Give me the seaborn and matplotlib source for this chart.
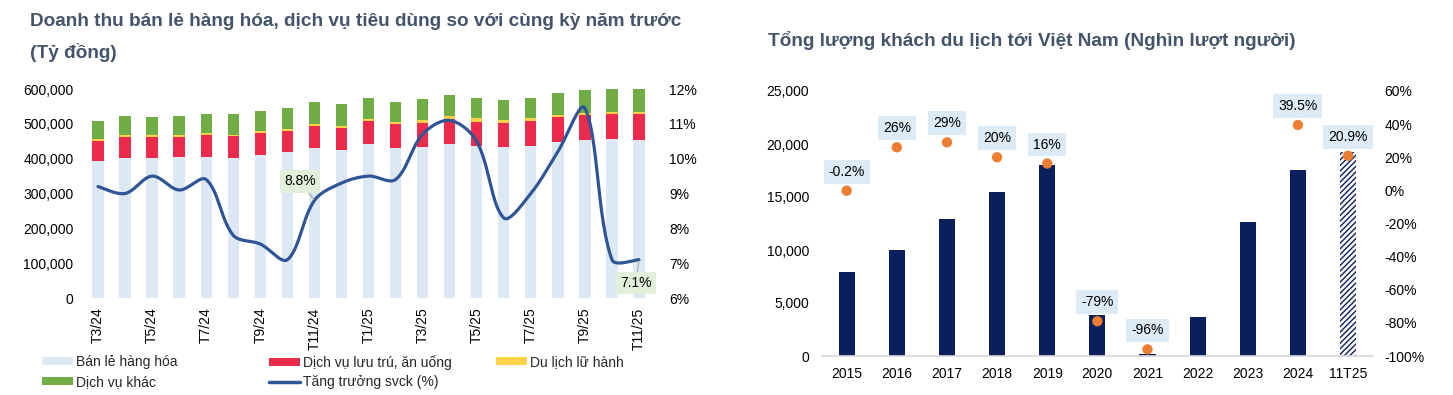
import numpy as np
import pandas as pd
import matplotlib
matplotlib.use("Agg")
import matplotlib.pyplot as plt
from matplotlib.patches import Patch
from matplotlib.lines import Line2D
from matplotlib.ticker import FuncFormatter, MultipleLocator
import seaborn as sns

# ---------------- data: left chart (Tỷ đồng) ----------------
months = ["T3/24", "T4/24", "T5/24", "T6/24", "T7/24", "T8/24", "T9/24", "T10/24",
          "T11/24", "T12/24", "T1/25", "T2/25", "T3/25", "T4/25", "T5/25", "T6/25",
          "T7/25", "T8/25", "T9/25", "T10/25", "T11/25"]
retail = [393300, 401900, 401900, 403800, 405800, 401900, 410500, 420000, 429700, 424000,
          441200, 431600, 434500, 442100, 436400, 432600, 436400, 448700, 454500, 455600, 454500]
accommodation = [58300, 61200, 61100, 59600, 61200, 62000, 62300, 60300, 64900, 65000,
                 67800, 67000, 68900, 70900, 69700, 70800, 71000, 70100, 70000, 71800, 72500]
travel = [4900, 5800, 5500, 5600, 7600, 5100, 5700, 5700, 5800, 5600,
          4900, 6700, 7600, 9500, 9800, 7600, 8000, 7400, 7500, 7400, 7000]
other = [52500, 53600, 51100, 53500, 53600, 58300, 57500, 59500, 61400, 63200,
         59400, 56500, 59400, 59400, 58300, 58300, 58000, 61400, 65100, 65200, 66000]
growth_yoy = [9.2, 9.0, 9.5, 9.1, 9.4, 7.8, 7.55, 7.1, 8.8, 9.3, 9.5,
              9.4, 10.7, 11.1, 10.5, 8.3, 9.0, 10.2, 11.45, 7.1, 7.1]
left_tick_labels = ["T3/24", "T5/24", "T7/24", "T9/24", "T11/24", "T1/25",
                    "T3/25", "T5/25", "T7/25", "T9/25", "T11/25"]
left_callouts = {"T11/24": "8.8%", "T11/25": "7.1%"}

# ---------------- data: right chart (Nghìn lượt người) ----------------
years = ["2015", "2016", "2017", "2018", "2019", "2020", "2021", "2022", "2023", "2024", "11T25"]
arrivals = [7944, 10013, 12922, 15498, 18009, 3837, 157, 3661, 12600, 17584, 19200]
arrival_growth = [-0.2, 26, 29, 20, 16.2, -79, -96, np.nan, np.nan, 39.5, 20.9]
arrival_growth_labels = ["-0.2%", "26%", "29%", "20%", "16%", "-79%", "-96%", "", "", "39.5%", "20.9%"]

# ---------------- style ----------------
sns.set_theme(style="white")
plt.rcParams["font.family"] = ["Liberation Sans", "DejaVu Sans"]
plt.rcParams["hatch.linewidth"] = 1.0

C_RETAIL = "#DDE8F5"
C_ACCOM = "#EC2B4C"
C_TRAVEL = "#FFD24A"
C_OTHER = "#70AD47"
C_LINE = "#2F5597"
C_TITLE = "#44546A"
C_NAVY = "#0B1F5E"
C_DOT = "#ED7D31"

W, H = 1453, 395
fig = plt.figure(figsize=(W / 100, H / 100), dpi=100)


def fx(px):
    return px / W


def fy(py):
    return 1 - py / H


def smooth_curve(xs, ys, sx, sy, n=30):
    """Length-weighted cubic Bezier smoothing (Excel-like), computed in pixel space."""
    P = np.column_stack([np.asarray(xs, float) * sx, np.asarray(ys, float) * sy])
    m = len(P)
    L = np.hypot(*np.diff(P, axis=0).T)
    out = []
    for i in range(m - 1):
        p0 = P[max(i - 1, 0)]
        p1 = P[i]
        p2 = P[i + 1]
        p3 = P[min(i + 2, m - 1)]
        Lp = L[i - 1] if i > 0 else L[i]
        Ln = L[i + 1] if i + 1 < m - 1 else L[i]
        Li = L[i]
        c1 = p1 + (p2 - p0) * (Li / (Lp + Li)) / 3
        c2 = p2 - (p3 - p1) * (Li / (Li + Ln)) / 3
        t = np.linspace(0, 1, n)[:, None]
        seg = (1 - t) ** 3 * p1 + 3 * (1 - t) ** 2 * t * c1 + 3 * (1 - t) * t ** 2 * c2 + t ** 3 * p2
        out.append(seg if i == 0 else seg[1:])
    res = np.vstack(out)
    return res[:, 0] / sx, res[:, 1] / sy


# ================= LEFT CHART =================
axL = fig.add_axes([fx(84.5), fy(298), fx(568), 209 / H])
dfL = pd.DataFrame({"month": months, "retail": retail, "accom": accommodation,
                    "travel": travel, "other": other})
dfL["c1"] = dfL["retail"]
dfL["c2"] = dfL["c1"] + dfL["accom"]
dfL["c3"] = dfL["c2"] + dfL["travel"]
dfL["c4"] = dfL["c3"] + dfL["other"]

bw = 0.42
for col, colr in [("c4", C_OTHER), ("c3", C_TRAVEL), ("c2", C_ACCOM), ("c1", C_RETAIL)]:
    sns.barplot(data=dfL, x="month", y=col, color=colr, width=bw, saturation=1,
                errorbar=None, ax=axL, linewidth=0)

axL.set_ylim(0, 600000)
axL.set_xlim(-0.5, len(months) - 0.5)
axL.yaxis.set_major_locator(MultipleLocator(100000))
axL.yaxis.set_major_formatter(FuncFormatter(lambda v, p: f"{int(v):,}"))
tick_pos = [months.index(m) for m in left_tick_labels]
axL.set_xticks(tick_pos)
axL.set_xticklabels(left_tick_labels, rotation=90, fontsize=10, color="black")
axL.tick_params(axis="x", length=0, pad=7)
axL.tick_params(axis="y", length=0, pad=8, labelsize=10, labelcolor="black")
axL.set_xlabel("")
axL.set_ylabel("")
for s in axL.spines.values():
    s.set_visible(False)

axL2 = axL.twinx()
axL2.set_ylim(6, 12)
sx = 568 / len(months)
sy = 209 / 6
cx, cy = smooth_curve(np.arange(len(months)), growth_yoy, sx, sy)
axL2.plot(cx, cy, color=C_LINE, lw=2.3, solid_capstyle="round")
axL2.yaxis.set_major_locator(MultipleLocator(1))
axL2.yaxis.set_major_formatter(FuncFormatter(lambda v, p: f"{v:.0f}%"))
axL2.tick_params(axis="y", length=0, pad=12, labelsize=10, labelcolor="black")
for s in axL2.spines.values():
    s.set_visible(False)
axL2.grid(False)
axL.grid(False)

offsets = {"T11/24": (-14, 19), "T11/25": (-3, -23)}
for m, txt in left_callouts.items():
    i = months.index(m)
    axL2.annotate(txt, xy=(i, growth_yoy[i]), xytext=offsets[m], textcoords="offset pixels",
                  ha="center", va="center", fontsize=10, color="black",
                  bbox=dict(boxstyle="square,pad=0.3", fc="#E2EFDA", ec="none"),
                  arrowprops=dict(arrowstyle="-", color="#A6A6A6", lw=0.8, shrinkA=0, shrinkB=1))

fig.text(fx(30), fy(22), "Doanh thu bán lẻ hàng hóa, dịch vụ tiêu dùng so với cùng kỳ năm trước",
         fontsize=13.7, fontweight="bold", color=C_TITLE, ha="left", va="center")
fig.text(fx(30), fy(52), "(Tỷ đồng)", fontsize=13.7, fontweight="bold", color=C_TITLE,
         ha="left", va="center")

# legend (three columns)
leg_kw = dict(loc="upper left", frameon=False, fontsize=10, handlelength=2.25, handleheight=0.5,
              handletextpad=0.2, labelspacing=0.4, borderpad=0, borderaxespad=0)
lg1 = fig.legend([Patch(fc=C_RETAIL, ec="none"), Patch(fc=C_OTHER, ec="none")],
                 ["Bán lẻ hàng hóa", "Dịch vụ khác"], bbox_to_anchor=(fx(42), fy(355)), **leg_kw)
lg2 = fig.legend([Patch(fc=C_ACCOM, ec="none"), Line2D([], [], color=C_LINE, lw=2.5)],
                 ["Dịch vụ lưu trú, ăn uống", "Tăng trưởng svck (%)"],
                 bbox_to_anchor=(fx(269), fy(355)), **leg_kw)
lg3 = fig.legend([Patch(fc=C_TRAVEL, ec="none")], ["Du lịch lữ hành"],
                 bbox_to_anchor=(fx(496), fy(355)), **leg_kw)

# ================= RIGHT CHART =================
axR = fig.add_axes([fx(821.6), fy(356), fx(551.5), 265 / H])
dfR = pd.DataFrame({"year": years, "arrivals": arrivals})
sns.barplot(data=dfR, x="year", y="arrivals", color=C_NAVY, width=0.32, saturation=1,
            errorbar=None, ax=axR, linewidth=0)
last = axR.patches[len(years) - 1]
last.set_facecolor("white")
last.set_edgecolor(C_NAVY)
last.set_hatch("//////")
last.set_linewidth(0)

axR.set_ylim(0, 25000)
axR.set_xlim(-0.5, len(years) - 0.5)
axR.yaxis.set_major_locator(MultipleLocator(5000))
axR.yaxis.set_major_formatter(FuncFormatter(lambda v, p: f"{int(v):,}"))
axR.tick_params(axis="y", length=0, pad=9, labelsize=10, labelcolor="black")
axR.tick_params(axis="x", length=0, pad=8, labelsize=10, labelcolor="black")
axR.set_xlabel("")
axR.set_ylabel("")
for k, s in axR.spines.items():
    s.set_visible(k == "bottom")
axR.spines["bottom"].set_color("#D9D9D9")
axR.spines["bottom"].set_linewidth(1.2)
axR.grid(False)

axR2 = axR.twinx()
dfG = pd.DataFrame({"pos": np.arange(len(years)), "g": arrival_growth}).dropna()
sns.scatterplot(data=dfG, x="pos", y="g", color=C_DOT, s=55, edgecolor="none", ax=axR2, zorder=5)
axR2.set_ylim(-100, 60)
axR2.yaxis.set_major_locator(MultipleLocator(20))
axR2.yaxis.set_major_formatter(FuncFormatter(lambda v, p: f"{v:.0f}%"))
axR2.tick_params(axis="y", length=0, pad=8, labelsize=10, labelcolor="black")
axR2.set_xlabel("")
axR2.set_ylabel("")
for s in axR2.spines.values():
    s.set_visible(False)
axR2.grid(False)

for i, (g, lab) in enumerate(zip(arrival_growth, arrival_growth_labels)):
    if np.isnan(g):
        continue
    axR2.annotate(lab, xy=(i, g), xytext=(0, 19), textcoords="offset pixels",
                  ha="center", va="center", fontsize=10, color="black",
                  bbox=dict(boxstyle="square,pad=0.35", fc="#DDEBF7", ec="none"))

fig.text(fx(768), fy(40), "Tổng lượng khách du lịch tới Việt Nam (Nghìn lượt người)",
         fontsize=13.7, fontweight="bold", color=C_TITLE, ha="left", va="center")

fig.savefig("out.png", dpi=100, facecolor="white")
